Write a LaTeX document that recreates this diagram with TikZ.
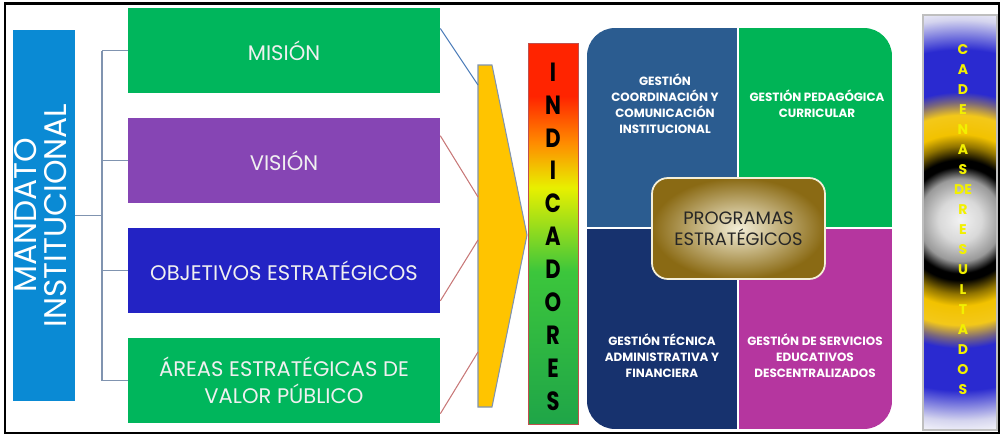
\documentclass[tikz,border=0pt]{standalone}
\usepackage{fontspec}
\setmainfont{Poppins}

\definecolor{mandatoblue}{HTML}{0A8AD4}
\definecolor{boxgreen}{HTML}{00B65C}
\definecolor{boxpurple}{HTML}{8645B4}
\definecolor{boxblue}{HTML}{2323C4}
\definecolor{linkgrey}{HTML}{8094B0}
\definecolor{linkblue}{HTML}{4F7FBA}
\definecolor{linkred}{HTML}{C87878}
\definecolor{arrowyellow}{HTML}{FFC400}
\definecolor{semborder}{HTML}{C0504D}
\definecolor{semred}{HTML}{FF2400}
\definecolor{semorange}{HTML}{FF8A00}
\definecolor{semyellow}{HTML}{E8F000}
\definecolor{semgreen}{HTML}{3CC63C}
\definecolor{semdark}{HTML}{1FA548}
\definecolor{quadtl}{HTML}{2B5C90}
\definecolor{quadtr}{HTML}{00B456}
\definecolor{quadbl}{HTML}{17326E}
\definecolor{quadbr}{HTML}{B5369F}
\definecolor{goldlight}{HTML}{F4EFD8}
\definecolor{golddark}{HTML}{8A6A14}
\definecolor{haloblue}{HTML}{2A2AD0}
\definecolor{halogold}{HTML}{F2C200}
\definecolor{halolav}{HTML}{D4D4EE}
\definecolor{chainyellow}{HTML}{F2F000}

\pgfdeclareverticalshading{semaforo}{100bp}{color(0bp)=(semdark); color(25bp)=(semdark);
  color(45bp)=(semgreen); color(56bp)=(semyellow); color(62bp)=(semorange);
  color(68bp)=(semred); color(100bp)=(semred)}
\pgfdeclareradialshading{halo}{\pgfpoint{0bp}{0bp}}{color(0bp)=(white!90!gray);
  color(2.5bp)=(white!70!gray); color(4.8bp)=(gray!80); color(5.6bp)=(black!75);
  color(6.2bp)=(black); color(7bp)=(black); color(8.6bp)=(halogold!60!black);
  color(10bp)=(halogold); color(12.2bp)=(halogold!90!white);
  color(13.7bp)=(halogold!40!haloblue); color(14.9bp)=(haloblue);
  color(19.8bp)=(haloblue); color(23.3bp)=(halolav); color(25bp)=(white!85!halolav);
  color(50bp)=(white!85!halolav)}

\begin{document}
\begin{tikzpicture}[x=0.02cm, y=-0.02cm,
    goal/.style={minimum width=6.24cm, minimum height=1.7cm, text=white!94!black,
      align=center, font=\fontsize{12}{15.5}\selectfont},
    bracket/.style={draw=linkgrey, line width=0.8pt},
    link/.style={line width=0.6pt},
    quadtext/.style={text=white, align=center, font=\bfseries\fontsize{6.8}{9}\selectfont},
    indletter/.style={inner sep=0pt, font=\bfseries\fontsize{12}{12}\selectfont},
    chainletter/.style={inner sep=0pt, text=chainyellow, font=\bfseries\fontsize{8}{8}\selectfont}]

    \useasboundingbox (0,0) rectangle (1001,436);
    \draw[line width=1.2pt] (5,3.5) rectangle (999,433);

    % Mandato
    \node[fill=mandatoblue, minimum width=1.24cm, minimum height=7.42cm, inner sep=0pt,
      text=white] (mandato) at (44,215.5)
      {\rotatebox{90}{\fontsize{17.8}{15}\selectfont\begin{tabular}{@{}c@{}}MANDATO\\INSTITUCIONAL\end{tabular}}};

    % Goals
    \node[goal, fill=boxgreen] (mision) at (284,50.5) {MISIÓN};
    \node[goal, fill=boxpurple] (vision) at (284,160.5) {VISIÓN};
    \node[goal, fill=boxblue] (objetivos) at (284,270.5) {OBJETIVOS ESTRATÉGICOS};
    \node[goal, fill=boxgreen] (areas) at (284,380.5) {ÁREAS ESTRATÉGICAS DE\\VALOR PÚBLICO};

    \coordinate (trunk) at (102,215.5);
    \draw[bracket] (mandato.east) -- (trunk);
    \draw[bracket] (trunk |- mision.west) -- (trunk |- areas.west);
    \foreach \g in {mision, vision, objetivos, areas}{
        \draw[bracket] (trunk |- \g.west) -- (\g.west);
    }

    % Funnel
    \filldraw[fill=arrowyellow, draw=linkgrey, line width=0.6pt]
      (478,65) -- (492,65) -- (527,235) -- (492,407) -- (478,407) -- cycle;
    \coordinate (in1) at (478,85);
    \coordinate (in2) at (478,197);
    \coordinate (in3) at (478,240);
    \coordinate (in4) at (478,352);
    \draw[link, linkblue] (mision.8) -- (in1);
    \draw[link, linkred] (vision.9) -- (in2);
    \draw[link, linkred] (objetivos.-11) -- (in3);
    \draw[link, linkred] (areas.-12) -- (in4);

    % Indicadores
    \node[draw=semborder, line width=0.5pt, shade, shading=semaforo, minimum width=1cm,
      minimum height=7.62cm] (indicadores) at (553,233.5) {};
    \foreach \l [count=\i from 0] in {I,N,D,I,C,A,D,O,R,E,S}{
        \node[indletter] (ind\i) at (553,{72+32.9*\i}) {\scalebox{1}[1.25]{\l}};
    }

    % Gestiones
    \begin{scope}
        \clip[rounded corners=16pt] (587,28) rectangle (892,429);
        \fill[quadtl] (587,28) rectangle (738,228);
        \fill[quadtr] (738,28) rectangle (892,228);
        \fill[quadbl] (587,228) rectangle (738,429);
        \fill[quadbr] (738,228) rectangle (892,429);
        \draw[white, line width=1.2pt] (738,28) -- (738,429) (587,228) -- (892,228);
    \end{scope}
    \node[quadtext] (coordinacion) at (665,103.5) {GESTIÓN\\COORDINACIÓN Y\\COMUNICACIÓN\\INSTITUCIONAL};
    \node[quadtext] (pedagogica) at (817,104) {GESTIÓN PEDAGÓGICA\\CURRICULAR};
    \node[quadtext] (tecnica) at (662,355.5) {GESTIÓN TÉCNICA\\ADMINISTRATIVA Y\\FINANCIERA};
    \node[quadtext] (servicios) at (815,355.5) {GESTIÓN DE SERVICIOS\\EDUCATIVOS\\DESCENTRALIZADOS};

    \node[draw=goldlight, line width=1pt, rounded corners=9pt, inner color=goldlight,
      outer color=golddark, minimum width=3.46cm, minimum height=2.02cm, align=center,
      text=black!85, font=\fontsize{10.2}{12}\selectfont] (programas) at (738.5,228.5)
      {PROGRAMAS\\ESTRATÉGICOS};

    % Cadenas
    \begin{scope}
        \clip (923,15) rectangle (997,430);
        \shade[shading=halo] (960,220) circle (4.3cm);
    \end{scope}
    \draw[gray!50, line width=0.6pt] (923,15) rectangle (997,430);
    \foreach \l [count=\i from 0] in {C,A,D,E,N,A,S,DE,R,E,S,U,L,T,A,D,O,S}{
        \node[chainletter] (cad\i) at (963,{50+20*\i}) {\l};
    }
\end{tikzpicture}
\end{document}
